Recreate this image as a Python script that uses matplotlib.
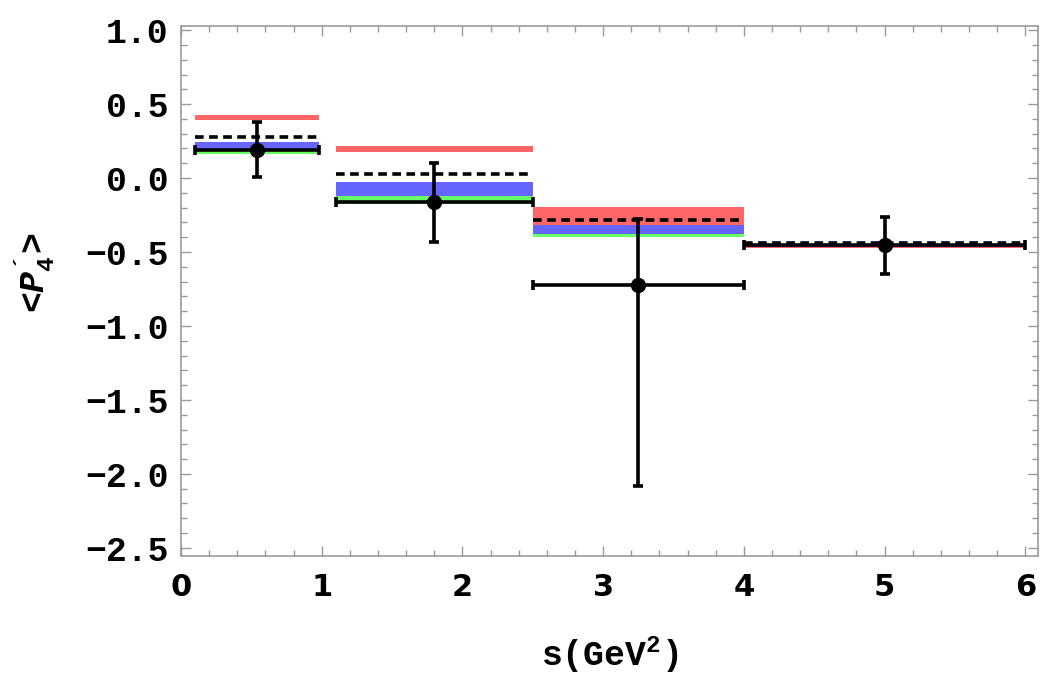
import matplotlib
matplotlib.use("Agg")
import matplotlib.pyplot as plt
from matplotlib.ticker import MultipleLocator, FuncFormatter

# bins in s (GeV^2)
bin_lo = [0.1, 1.1, 2.5, 4.0]
bin_hi = [0.98, 2.5, 4.0, 6.0]

# predicted bands (visible extents)
red_lo = [0.390, 0.174, -0.318, -0.474]
red_hi = [0.428, 0.218, -0.198, -0.467]
blue_lo = [0.19, -0.12, -0.38, -0.466]
blue_hi = [0.245, -0.029, -0.318, -0.453]
green_lo = [0.16, -0.176, -0.40, -0.470]
green_hi = [0.19, -0.12, -0.38, -0.466]
dashed_val = [0.28, 0.029, -0.284, -0.44]

# measured points
data_x = [0.54, 1.8, 3.25, 5.0]
data_y = [0.19, -0.16, -0.72, -0.45]
err_up = [0.19, 0.26, 0.44, 0.19]
err_dn = [0.18, 0.27, 1.36, 0.20]

red = "#ff6666"
blue = "#6666ff"
green = "#66ff66"
frame_col = "#999999"

plt.rcParams["mathtext.fontset"] = "custom"
plt.rcParams["mathtext.rm"] = "Liberation Mono:bold"
plt.rcParams["mathtext.it"] = "Liberation Mono:bold:italic"
plt.rcParams["mathtext.bf"] = "Liberation Mono:bold"

fig = plt.figure(figsize=(10.42, 6.82), dpi=100)
ax = fig.add_axes([0.1737, 0.1848, 0.8225, 0.7775])

for i in range(4):
    ax.fill_between([bin_lo[i], bin_hi[i]], green_lo[i], green_hi[i],
                    color=green, lw=0, zorder=1)
    ax.fill_between([bin_lo[i], bin_hi[i]], blue_lo[i], blue_hi[i],
                    color=blue, lw=0, zorder=2)
    ax.fill_between([bin_lo[i], bin_hi[i]], red_lo[i], red_hi[i],
                    color=red, lw=0, zorder=3)
    ax.plot([bin_lo[i], bin_hi[i]], [dashed_val[i]] * 2, color="black",
            lw=2.6, linestyle=(0, (2.4, 1.5)), zorder=4)

xerr_lo = [x - lo for x, lo in zip(data_x, bin_lo)]
xerr_hi = [hi - x for x, hi in zip(data_x, bin_hi)]
ax.errorbar(data_x, data_y, xerr=[xerr_lo, xerr_hi], yerr=[err_dn, err_up],
            fmt="o", color="black", ms=10, elinewidth=2.6, capsize=3.5,
            capthick=2.6, zorder=5)

ax.set_xlim(0, 6.09)
ax.set_ylim(-2.555, 1.03)

ax.xaxis.set_major_locator(MultipleLocator(1))
ax.xaxis.set_minor_locator(MultipleLocator(0.2))
ax.yaxis.set_major_locator(MultipleLocator(0.5))
ax.yaxis.set_minor_locator(MultipleLocator(0.1))
ax.yaxis.set_major_formatter(
    FuncFormatter(lambda v, p: f"{v:.1f}".replace("-", "\u2212")))

ax.tick_params(which="both", direction="in", top=True, right=True,
               color=frame_col, width=1)
ax.tick_params(which="major", length=7)
ax.tick_params(which="minor", length=4)
ax.tick_params(axis="x", pad=12)
ax.tick_params(axis="y", pad=9)
for spine in ax.spines.values():
    spine.set_color(frame_col)
    spine.set_linewidth(1.2)

for lab in ax.get_yticklabels():
    lab.set_fontfamily(["Liberation Mono", "DejaVu Sans Mono"])
    lab.set_fontweight("bold")
    lab.set_fontsize(25)
for lab in ax.get_xticklabels():
    lab.set_fontfamily("DejaVu Sans")
    lab.set_fontweight("bold")
    lab.set_fontsize(22)

ax.set_xlabel("s(GeV$^2$)", fontfamily="Liberation Mono", fontweight="bold",
              fontsize=25, va="center")
ax.xaxis.set_label_coords(0.5, -0.187)
ax.set_ylabel("<$P^{´}_{4}$>", fontfamily="Liberation Mono",
              fontweight="bold", fontsize=25, va="center")
ax.yaxis.set_label_coords(-0.17, 0.535)

fig.savefig("out.png", dpi=100)
